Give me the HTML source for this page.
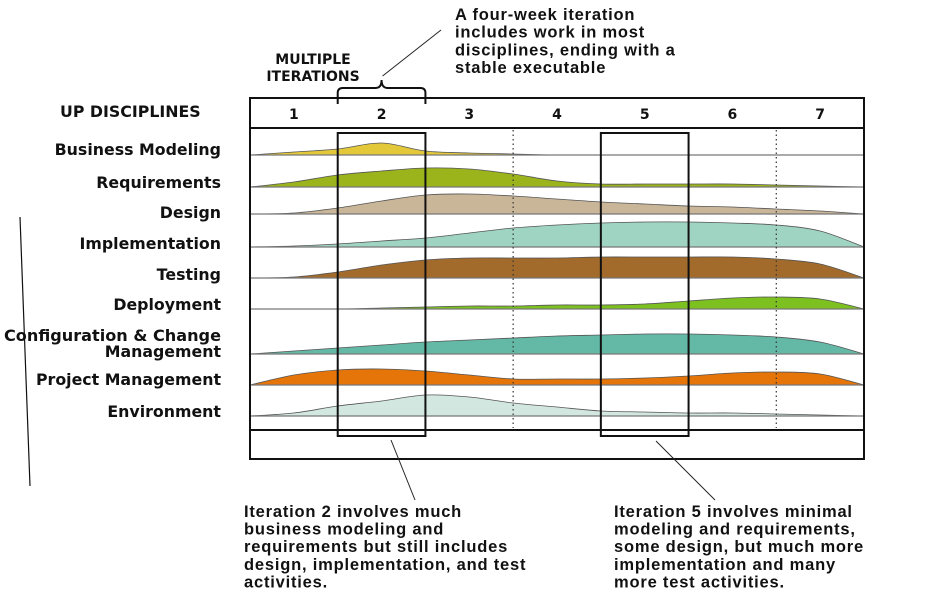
<!DOCTYPE html>
<html><head><meta charset="utf-8"><style>
html,body{margin:0;padding:0;background:#fff;}
svg{display:block;}
.lab{font-family:"DejaVu Sans","Liberation Sans",sans-serif;font-weight:bold;font-size:14px;fill:#111;}
.dlab{font-family:"DejaVu Sans","Liberation Sans",sans-serif;font-weight:bold;font-size:15.8px;fill:#111;}
.ann{font-family:"Liberation Sans",sans-serif;font-weight:bold;font-size:16.5px;letter-spacing:0.8px;fill:#111;}
</style></head><body>
<svg id="chart" width="945" height="602" viewBox="0 0 945 602" xmlns="http://www.w3.org/2000/svg">
<g id="labels"></g>
<g id="humps"></g>
<g id="frame"></g>
</svg>
<script>
const iterations = ["1","2","3","4","5","6","7"];
const disciplines = ["Business Modeling","Requirements","Design","Implementation","Testing","Deployment","Configuration & Change Management","Project Management","Environment"];
const colors = ["#e3c93a","#9bb41c","#c9b597","#9fd4c2","#a36b2b","#7cc11f","#63b9a6","#e57508","#d2e7df"];
// effort levels sampled at every half iteration (t = 0, 0.5, ... 7)
const businessModeling = [0,3,6,12,4,2,1,0,0,0,0,0,0,0,0];
const requirements     = [0,5,12,16,19,18,13,6,3,3,3,3,2,1,0];
const design           = [0,1,6,13,19,20,18,15,12,10,8,7,5,3,0];
const implementation   = [0,1,3,6,9,14,19,22,24,25,25,24,22,16,0];
const testing          = [0,1,6,13,18,20,20,20,21,21,21,21,19,14,0];
const deployment       = [0,0,0,1,2,3,3,4,4,5,8,11,12,10,0];
const configuration    = [0,3,6,9,12,14,16,18,19,20,20,19,17,12,0];
const projectMgmt      = [0,10,15,16,14,10,6,6,6,7,9,12,13,11,0];
const environment      = [0,3,10,15,21,19,13,9,5,4,3,3,2,1,0];
const series = [businessModeling,requirements,design,implementation,testing,deployment,configuration,projectMgmt,environment];
const baselines = [155,187,214,247,278,309,354,385,416];
const labelLines = [["Business Modeling"],["Requirements"],["Design"],["Implementation"],["Testing"],["Deployment"],["Configuration & Change","Management"],["Project Management"],["Environment"]];
const labelY = [155,188,218,249,280,310,341,385,417];

const NS="http://www.w3.org/2000/svg";
const X0=250,X1=864;
function xScale(t){return X0+(X1-X0)*t/7;}
function yScale(v,base){return base - v;}
function mk(tag,attrs,parent){const e=document.createElementNS(NS,tag);for(const k in attrs)e.setAttribute(k,attrs[k]);parent.appendChild(e);return e;}

const humps=document.getElementById('humps');
const labels=document.getElementById('labels');
const frame=document.getElementById('frame');

series.forEach((vals,i)=>{
  const base=baselines[i];
  const pts=vals.map((v,j)=>[xScale(j*0.5),yScale(v,base)]);
  let d=`M${pts[0][0]},${base} L${pts[0][0]},${pts[0][1]}`;
  for(let j=0;j<pts.length-1;j++){
    const p0=pts[Math.max(0,j-1)],p1=pts[j],p2=pts[j+1],p3=pts[Math.min(pts.length-1,j+2)];
    const c1=[p1[0]+(p2[0]-p0[0])/6,p1[1]+(p2[1]-p0[1])/6];
    const c2=[p2[0]-(p3[0]-p1[0])/6,p2[1]-(p3[1]-p1[1])/6];
    d+=` C${c1[0]},${Math.min(base,c1[1])} ${c2[0]},${Math.min(base,c2[1])} ${p2[0]},${p2[1]}`;
  }
  d+=` L${xScale(7)},${base} Z`;
  const p=mk('path',{d:d,fill:colors[i],stroke:'#555','stroke-width':0.8},humps);
  
  
  const bl=mk('line',{x1:X0,x2:X1,y1:base,y2:base,stroke:'#777','stroke-width':1.2},humps);
  
  
  labelLines[i].forEach((ln,k)=>{
    const t=mk('text',{x:221,y:labelY[i]+k*16,'text-anchor':'end',class:'dlab'},labels);
    t.textContent=ln;
    
    
    if(ln==="Configuration & Change"){t.setAttribute('textLength','217');t.setAttribute('lengthAdjust','spacingAndGlyphs');}
  });
});

// header / frame
let e;
e=mk('rect',{x:X0,y:98,width:X1-X0,height:30,fill:'none',stroke:'#111','stroke-width':2},frame);


e=mk('rect',{x:X0,y:430,width:X1-X0,height:29,fill:'none',stroke:'#111','stroke-width':2},frame);


e=mk('line',{x1:X0,x2:X0,y1:128,y2:430,stroke:'#111','stroke-width':2},frame);


e=mk('line',{x1:X1,x2:X1,y1:128,y2:430,stroke:'#111','stroke-width':2},frame);


iterations.forEach((it,i)=>{
  const t=mk('text',{x:xScale(i+0.5),y:119,'text-anchor':'middle',class:'lab'},frame);
  t.textContent=it;
  
  
});
[3,6].forEach(k=>{
  const l=mk('line',{x1:xScale(k),x2:xScale(k),y1:130,y2:428,stroke:'#333','stroke-width':1.2,'stroke-dasharray':'1.5,3'},frame);
  
  
});
[1,4].forEach(k=>{
  const r=mk('rect',{x:xScale(k),y:133,width:xScale(k+1)-xScale(k),height:303,fill:'none',stroke:'#111','stroke-width':2},frame);
  
  
});
// brace
const bx0=xScale(1),bx1=xScale(2),bm=(bx0+bx1)/2;
e=mk('path',{d:`M${bx0},104 L${bx0},93 Q${bx0},88 ${bx0+5},88 L${bm-6},88 Q${bm},88 ${bm},80 Q${bm},88 ${bm+6},88 L${bx1-5},88 Q${bx1},88 ${bx1},93 L${bx1},104`,fill:'none',stroke:'#111','stroke-width':2},frame);


e=mk('line',{x1:bm+1,y1:76,x2:441,y2:30,stroke:'#222','stroke-width':1},frame);


e=mk('line',{x1:391,y1:440,x2:415,y2:500,stroke:'#222','stroke-width':1},frame);


e=mk('line',{x1:656,y1:441,x2:715,y2:500,stroke:'#222','stroke-width':1},frame);


e=mk('line',{x1:20,y1:217,x2:30,y2:486,stroke:'#111','stroke-width':1.2},frame);



function textBlock(lines,x,y,lh,cls,name,anchor){
  lines.forEach((ln,k)=>{
    const t=mk('text',{x:x,y:y+k*lh,class:cls,'text-anchor':anchor||'start'},frame);
    t.textContent=ln;
    
    
  });
}
textBlock(["UP DISCIPLINES"],60,117,0,'dlab','disciplines-title');
textBlock(["MULTIPLE","ITERATIONS"],313,64,17,'lab','multiple-iterations-label','middle');
textBlock(["A four-week iteration","includes work in most","disciplines, ending with a","stable executable"],455,20,17.7,'ann','four-week-note');
textBlock(["Iteration 2 involves much","business modeling and","requirements but still includes","design, implementation, and test","activities."],244,517,17.6,'ann','iteration-2-note');
textBlock(["Iteration 5 involves minimal","modeling and requirements,","some design, but much more","implementation and many","more test activities."],614,517,17.6,'ann','iteration-5-note');
</script>
</body></html>
